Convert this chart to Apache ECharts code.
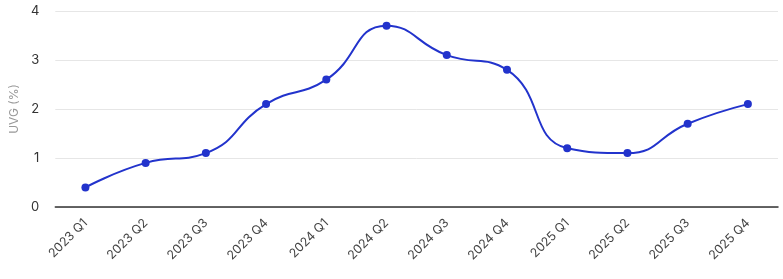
<!DOCTYPE html>
<html><head><meta charset="utf-8">
<script src="https://cdn.jsdelivr.net/npm/echarts@6/dist/echarts.min.js"></script>
<style>html,body{margin:0;padding:0;background:#fff}#c{width:783px;height:279px}</style>
</head><body><div id="c"></div>
<script>
const categories = ['2023 Q1','2023 Q2','2023 Q3','2023 Q4','2024 Q1','2024 Q2','2024 Q3','2024 Q4','2025 Q1','2025 Q2','2025 Q3','2025 Q4'];
const uvgValues = [0.4, 0.9, 1.1, 2.1, 2.6, 3.7, 3.1, 2.8, 1.2, 1.1, 1.7, 2.1];
const yTicks = [0, 1, 2, 3, 4];
const chart = echarts.init(document.getElementById('c'));
chart.setOption({
  animation: false,
  textStyle: {fontFamily: 'Inter'},
  grid: {left: 55, right: 5, top: 11, bottom: 72, containLabel: false},
  xAxis: {
    type: 'category', data: categories, boundaryGap: true,
    axisLine: {lineStyle: {color: '#333', width: 1.5}},
    axisTick: {show: false},
    axisLabel: {rotate: 45, color: '#444', fontSize: 12.5, fontFamily: 'Inter', margin: 14}
  },
  yAxis: {
    type: 'value', min: yTicks[0], max: yTicks[yTicks.length-1], interval: 1,
    name: 'UVG (%)', nameLocation: 'middle', nameGap: 30,
    nameTextStyle: {color: '#999', fontSize: 12, fontFamily: 'Inter'},
    axisLine: {show: false}, axisTick: {show: false},
    axisLabel: {color: '#333', fontSize: 13, fontFamily: 'Inter', margin: 16},
    splitLine: {lineStyle: {color: '#e6e6e6'}}
  },
  series: [{
    type: 'line', data: uvgValues, smooth: true,
    symbol: 'circle', symbolSize: 8,
    lineStyle: {color: '#2233cc', width: 2},
    itemStyle: {color: '#2233cc'}
  }]
});
</script></body></html>
